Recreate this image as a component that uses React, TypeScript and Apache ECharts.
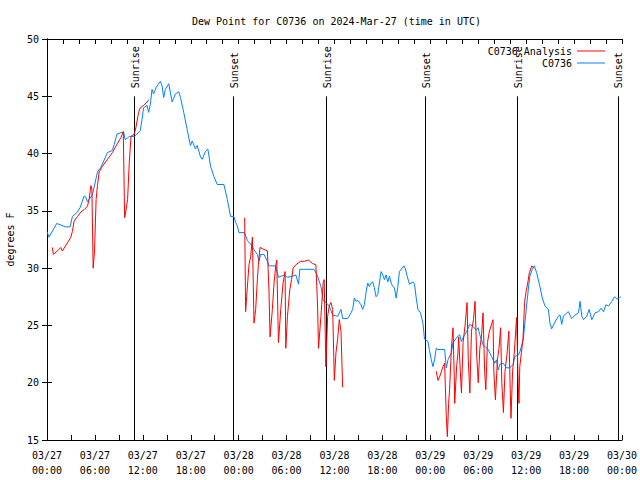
import { useEffect, useRef } from "react";
import * as echarts from "echarts";

const titleText = "Dew Point for C0736 on 2024-Mar-27 (time in UTC)";
const seriesNames = ["C0736 Analysis", "C0736"];
const xTickLabels = [
  "03/27\n00:00", "03/27\n06:00", "03/27\n12:00", "03/27\n18:00",
  "03/28\n00:00", "03/28\n06:00", "03/28\n12:00", "03/28\n18:00",
  "03/29\n00:00", "03/29\n06:00", "03/29\n12:00", "03/29\n18:00",
  "03/30\n00:00",
];

// hours since 03/27 00:00 UTC
const stationHours = [
  0, 0.25, 1.22, 2.35, 2.89, 3.18, 3.81, 4.15, 4.65, 4.86, 5.06, 5.69, 6.32, 6.75, 7.58, 8.0, 8.2, 8.42, 8.76, 9.17,
  9.59, 9.8, 10.3, 10.93, 11.56, 11.68, 11.9, 12.1, 12.53, 12.73, 12.94, 13.15, 13.35, 13.69, 13.98, 14.2, 14.41, 14.61, 14.82, 15.24,
  15.67, 16.08, 16.5, 16.71, 17.12, 17.55, 17.96, 18.18, 18.59, 18.81, 19.22, 19.43, 19.85, 20.14, 20.48, 20.89, 21.32, 22.15, 22.58, 22.99,
  23.4, 23.62, 23.83, 24.03, 24.75, 25.09, 25.5, 25.92, 26.34, 26.55, 26.76, 27.17, 27.6, 27.8, 28.64, 28.98, 29.69, 30.11, 30.74, 31.16,
  31.5, 31.66, 33.45, 33.88, 34.3, 34.58, 34.92, 35.34, 35.77, 36.39, 36.81, 37.02, 37.65, 38.07, 38.28, 38.48, 38.69, 38.91, 39.32, 39.53,
  39.74, 39.95, 40.16, 40.36, 40.58, 40.79, 40.99, 41.21, 41.42, 41.62, 41.83, 42.05, 42.25, 42.46, 42.68, 42.88, 43.09, 43.3, 43.5, 43.72,
  43.93, 44.13, 44.35, 44.69, 44.85, 45.1, 45.39, 45.82, 46.02, 46.23, 46.45, 46.77, 47.07, 47.27, 47.7, 47.9, 48.12, 48.33, 48.53, 48.74,
  48.96, 49.79, 50.0, 50.21, 50.63, 50.84, 51.26, 51.67, 51.88, 52.3, 52.51, 52.93, 53.35, 53.77, 53.98, 54.18, 54.61, 54.81, 55.24, 55.65,
  56.07, 56.28, 56.5, 56.7, 57.12, 57.54, 57.95, 58.38, 58.58, 59.01, 59.21, 59.42, 59.64, 59.84, 60.05, 60.26, 60.46, 60.77, 61.02, 61.31,
  61.72, 62.02, 62.35, 62.78, 62.98, 63.19, 63.61, 64.03, 64.24, 64.45, 64.66, 65.08, 65.29, 65.49, 65.7, 66.12, 66.55, 66.75, 66.96, 67.17,
  67.59, 67.88, 68.22, 68.63, 69.06, 69.39, 69.69, 69.98, 70.31, 70.73, 71.07, 71.36, 71.65, 71.85,
];
const stationValues = [
  33.2, 32.7, 33.9, 33.6, 33.6, 34.5, 34.9, 35.3, 36.3, 36.2, 35.8, 36.4, 38.4, 38.8, 40.1, 40.2, 40.3, 40.8, 41.7, 41.8,
  41.9, 41.2, 41.5, 41.5, 41.9, 42.0, 43.0, 44.0, 44.2, 43.6, 44.3, 45.6, 45.2, 45.8, 46.1, 46.3, 45.9, 44.9, 45.6, 46.1,
  44.5, 45.2, 45.4, 44.9, 43.6, 42.1, 40.7, 41.1, 40.4, 40.7, 39.7, 39.5, 40.2, 40.4, 38.9, 38.0, 37.3, 37.3, 36.0, 34.5,
  34.5, 34.0, 33.7, 33.1, 33.1, 32.4, 32.1, 31.6, 31.2, 30.6, 31.2, 31.2, 30.6, 30.2, 30.2, 29.2, 29.4, 29.2, 29.3, 29.4,
  28.6, 29.9, 29.9, 29.3, 28.4, 27.2, 27.0, 26.7, 25.9, 25.8, 26.4, 25.6, 25.6, 26.1, 26.4, 27.4, 27.1, 27.2, 26.8, 26.4,
  26.8, 27.9, 28.7, 28.4, 28.7, 28.8, 28.3, 27.5, 27.7, 28.7, 29.7, 29.4, 29.0, 29.4, 28.8, 29.3, 28.7, 28.4, 28.3, 27.4,
  28.4, 29.7, 29.9, 30.2, 30.0, 29.3, 28.6, 28.8, 28.6, 27.4, 26.4, 26.1, 25.2, 23.8, 23.6, 22.8, 22.0, 21.4, 22.0, 23.0,
  22.9, 22.9, 21.3, 22.0, 22.6, 23.5, 23.9, 24.2, 23.6, 24.2, 24.4, 25.1, 24.9, 24.6, 24.8, 24.2, 23.3, 23.2, 22.9, 22.3,
  21.7, 22.0, 21.1, 21.6, 21.7, 21.3, 21.3, 21.6, 22.3, 22.4, 22.7, 23.2, 23.8, 25.2, 26.7, 28.1, 29.3, 29.9, 30.2, 29.6,
  28.4, 27.4, 26.7, 26.4, 25.2, 24.7, 25.3, 25.8, 25.9, 25.1, 25.8, 26.1, 26.2, 25.9, 25.6, 25.9, 26.1, 27.1, 25.8, 25.5,
  25.8, 26.4, 25.5, 26.1, 26.2, 26.5, 26.2, 26.8, 26.7, 27.1, 27.5, 27.3, 27.4, 27.5,
];

// analysis series; null marks a gap in the line
const analysisHours = [
  0.67, 0.79, 1.29, 1.72, 1.92, 2.55, 2.98, 3.18, 3.39, 3.81, 4.23, 4.65, 5.06, 5.28, 5.49, 5.62, 5.78, 5.95, 6.15, 6.32,
  6.53, 6.95, 7.58, 8.2, 8.83, 9.26, 9.55, 9.72, 9.9, 10.09, 10.3, 10.52, 10.93, 11.14, 11.47, 11.68, 12.1, 12.53, 12.73,
  18.0,
  24.75, 24.87, 25.0, 25.29, 25.5, 25.72, 25.92, 26.13, 26.34, 26.47, 26.67, 26.97, 27.6, 27.8, 27.93, 28.22, 28.43, 28.64, 28.77, 28.98,
  29.27, 29.56, 29.81, 29.9, 30.11, 30.4, 30.62, 30.82, 31.16, 31.78, 32.2, 32.75, 33.25, 33.67, 33.88, 34.0, 34.3, 34.58, 34.71, 34.92,
  35.14, 35.34, 35.55, 35.77, 35.98, 36.18, 36.39, 36.6, 36.81, 37.02,
  42.0,
  48.74, 48.96, 49.16, 49.58, 49.79, 50.0, 50.13, 50.29, 50.41, 50.63, 50.84, 51.0, 51.05, 51.3, 51.45, 51.55, 51.75, 51.9, 52.1, 52.35,
  52.6, 52.75, 52.95, 53.15, 53.4, 53.6, 53.8, 54.0, 54.2, 54.4, 54.6, 54.8, 54.95, 55.15, 55.4, 55.85, 55.95, 56.15, 56.4, 56.6,
  56.8, 56.95, 57.15, 57.35, 57.6, 57.83, 58.0, 58.1, 58.3, 58.5, 58.8, 59.0, 59.1, 59.2, 59.6, 59.8, 60.0, 60.2, 60.4, 60.7,
  60.96,
];
const analysisValues = [
  31.8, 31.2, 31.5, 31.8, 31.5, 32.2, 32.7, 33.2, 34.1, 34.5, 34.9, 35.1, 35.4, 36.0, 37.2, 36.9, 30.0, 31.5, 36.0, 37.2,
  38.4, 38.9, 39.5, 40.1, 40.9, 41.4, 41.9, 34.4, 35.1, 36.0, 39.2, 41.5, 41.7, 42.3, 43.6, 44.0, 44.2, 44.5, 44.7,
  null,
  34.4, 26.2, 27.5, 30.3, 31.0, 32.7, 25.2, 26.4, 29.0, 30.3, 31.8, 31.7, 31.5, 27.9, 24.0, 26.4, 28.7, 30.2, 30.7, 23.5,
  26.4, 28.7, 29.7, 23.0, 25.8, 28.1, 29.0, 30.0, 30.3, 30.6, 30.6, 30.7, 30.4, 30.3, 26.7, 23.0, 25.8, 28.7, 29.0, 21.4,
  25.8, 26.7, 27.0, 26.4, 20.2, 22.6, 23.8, 25.5, 24.5, 19.6,
  null,
  21.0, 20.2, 20.5, 21.4, 21.7, 17.0, 15.3, 18.2, 19.4, 22.9, 24.8, 20.5, 18.2, 21.5, 22.5, 24.0, 21.0, 19.1, 23.5, 25.0,
  27.0, 22.0, 19.1, 24.5, 25.5, 27.1, 22.5, 20.0, 23.0, 24.0, 26.1, 21.0, 19.4, 23.5, 24.5, 25.5, 21.0, 18.5, 22.0, 23.0,
  24.8, 20.0, 17.4, 21.0, 22.5, 24.5, 19.5, 16.9, 21.0, 22.5, 25.7, 20.0, 18.2, 21.4, 23.8, 27.0, 28.0, 28.7, 29.6, 30.2,
  30.0,
];

const sunHours = [10.93, 23.33, 34.97, 47.37, 58.89, 71.46];
const sunLabels = ["Sunrise", "Sunset", "Sunrise", "Sunset", "Sunrise", "Sunset"];

const FONT = "DejaVu Sans Mono";

export default function App() {
  const ref = useRef<HTMLDivElement>(null);
  useEffect(() => {
    if (!ref.current) return;
    const chart = echarts.init(ref.current, null, { renderer: "svg" });
    const station = stationHours.map((h, i) => [h, stationValues[i]]);
    const analysis = analysisHours.map((h, i) => [h, analysisValues[i] === null ? "-" : analysisValues[i]]);
    const axisCommon = {
      axisLine: { show: true, lineStyle: { color: "#000", width: 1 } },
      axisTick: { show: true, inside: true, length: 5, lineStyle: { color: "#000" } },
      splitLine: { show: false },
    };
    chart.setOption({
      animation: false,
      backgroundColor: "#fff",
      title: {
        text: titleText,
        left: 187,
        top: 11,
        textStyle: { fontFamily: FONT, fontSize: 10, fontWeight: "normal", color: "#000" },
      },
      legend: {
        data: seriesNames.map((n) => ({ name: n, icon: "rect" })),
        orient: "vertical",
        right: 30,
        top: 40,
        align: "right",
        itemWidth: 28,
        itemHeight: 1,
        itemGap: 0,
        textStyle: { fontFamily: FONT, fontSize: 10, color: "#000", lineHeight: 12 },
      },
      grid: { left: 47, right: 18, top: 39, bottom: 40, outerBoundsMode: "none", containLabel: false },
      xAxis: [
        {
          type: "value",
          min: 0,
          max: 72,
          interval: 3,
          position: "bottom",
          ...axisCommon,
          axisLabel: {
            fontFamily: FONT,
            fontSize: 10,
            color: "#000",
            lineHeight: 15,
            margin: 8,
            formatter: (v: number) => (v % 6 === 0 ? xTickLabels[v / 6] : ""),
          },
        },
        {
          type: "value",
          min: 0,
          max: 72,
          interval: 2,
          position: "top",
          ...axisCommon,
          axisLabel: { show: false },
        },
      ],
      yAxis: [
        {
          type: "value",
          min: 15,
          max: 50,
          interval: 5,
          position: "left",
          ...axisCommon,
          name: "degrees F",
          nameLocation: "middle",
          nameGap: 32,
          nameRotate: 90,
          nameTextStyle: { fontFamily: FONT, fontSize: 10, color: "#000" },
          axisLabel: { fontFamily: FONT, fontSize: 10, color: "#000", margin: 8 },
        },
        {
          type: "value",
          min: 15,
          max: 50,
          interval: 5,
          position: "right",
          ...axisCommon,
          axisLabel: { show: false },
        },
      ],
      series: [
        {
          type: "custom",
          silent: true,
          z: 1,
          data: sunHours.map((h, i) => [h, i]),
          encode: { x: 0 },
          renderItem: (_params: any, api: any) => {
            const h = api.value(0);
            const idx = api.value(1);
            const top = api.coord([h, 45]);
            const bot = api.coord([h, 15]);
            return {
              type: "group",
              children: [
                {
                  type: "line",
                  shape: { x1: Math.round(top[0]) + 0.5, y1: top[1], x2: Math.round(top[0]) + 0.5, y2: bot[1] },
                  style: { stroke: "#000", lineWidth: 1 },
                },
                {
                  type: "text",
                  x: top[0] + 1,
                  y: top[1] - 8,
                  rotation: Math.PI / 2,
                  style: {
                    text: sunLabels[idx],
                    fill: "#000",
                    font: `10px "${FONT}"`,
                    align: "left",
                    verticalAlign: "middle",
                  },
                },
              ],
            };
          },
        },
        {
          name: seriesNames[0],
          type: "line",
          data: analysis,
          symbol: "none",
          connectNulls: false,
          lineStyle: { color: "#ff0000", width: 1 },
          itemStyle: { color: "#ff0000" },
          z: 3,
        },
        {
          name: seriesNames[1],
          type: "line",
          data: station,
          symbol: "none",
          lineStyle: { color: "#0080ff", width: 1 },
          itemStyle: { color: "#0080ff" },
          z: 2,
        },
      ],
    });
    return () => chart.dispose();
  }, []);
  return (
    <div
      ref={ref}
      style={{ position: "fixed", left: 0, top: 0, width: 640, height: 480, background: "#fff" }}
    />
  );
}
